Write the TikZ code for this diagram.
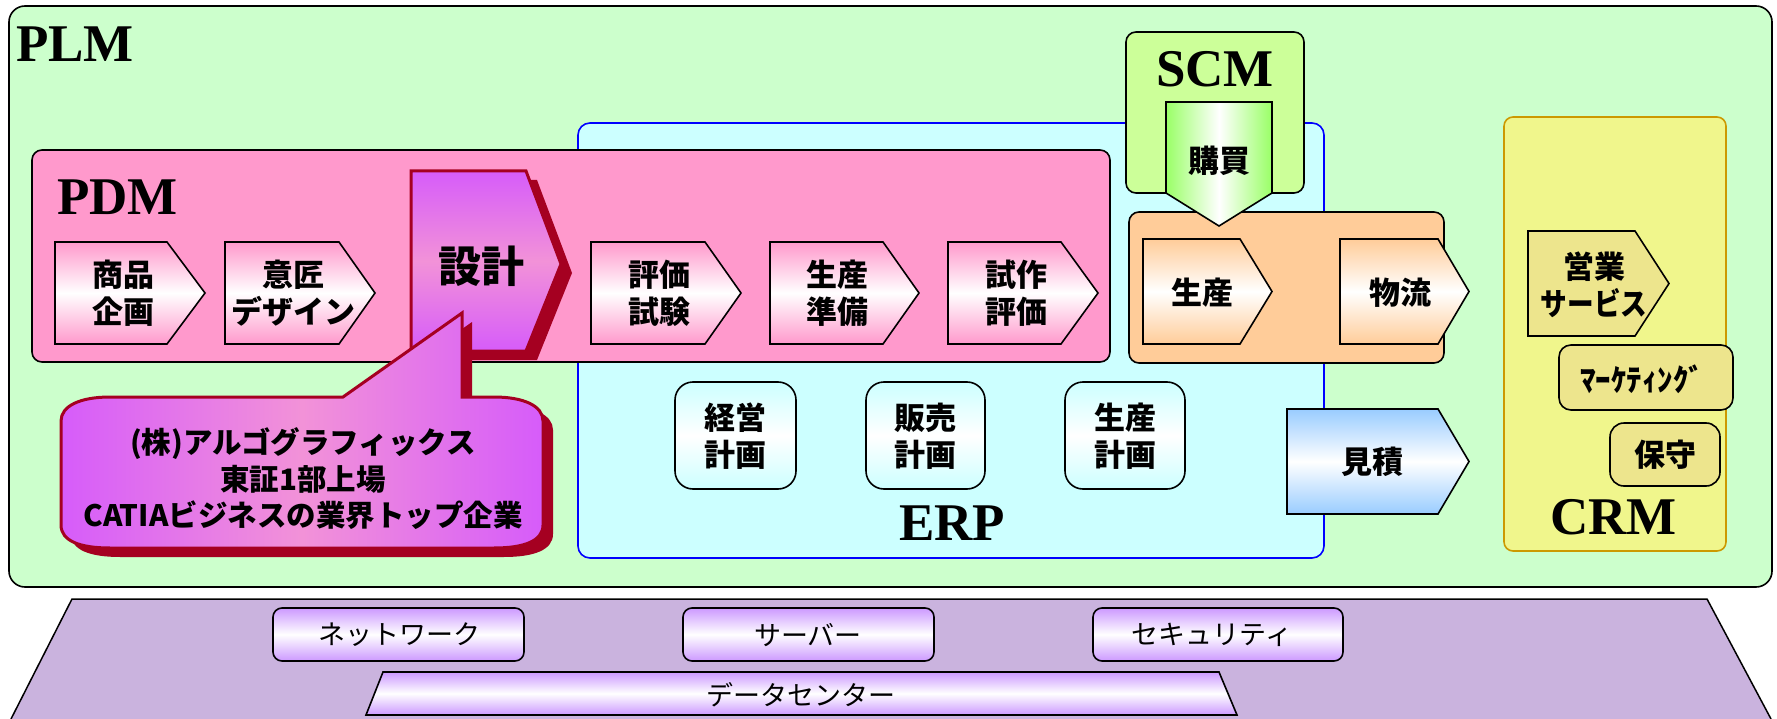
\documentclass[tikz,border=0pt]{standalone}
\usepackage{fontspec}
\setmainfont{Liberation Serif}
\newfontfamily\jp{Noto Sans CJK JP}
\definecolor{plmc}{HTML}{CCFFCC}
\definecolor{pdmc}{HTML}{FF99CC}
\definecolor{erpc}{HTML}{CCFFFF}
\definecolor{scmc}{HTML}{CCFF99}
\definecolor{orc}{HTML}{FFCC99}
\definecolor{crmc}{HTML}{F0F68C}
\definecolor{crmb}{HTML}{CC9900}
\definecolor{khaki}{HTML}{EDE58D}
\definecolor{grn}{HTML}{99FF66}
\definecolor{bluec}{HTML}{99CCFF}
\definecolor{dkred}{HTML}{A50021}
\definecolor{vio}{HTML}{D65CFA}
\definecolor{pnk}{HTML}{F292D8}
\definecolor{infra}{HTML}{CAB3DE}
\definecolor{infb}{HTML}{CC99FF}
\newcommand{\chevdraw}[6]{\path[#1] (#2,#3) -- (#4,#3) -- (#5,{(#3+#6)/2}) -- (#4,#6) -- (#2,#6) -- cycle;}
\newcommand{\callpath}[1]{\path[#1] (343,397) -- (110,397) .. controls (80,397) and (61,406) .. (61,421) -- (61,525) .. controls (61,541) and (80,548) .. (110,548) -- (494,548) .. controls (524,548) and (543,541) .. (543,525) -- (543,421) .. controls (543,406) and (524,397) .. (494,397) -- (462,397) -- (462,313) -- cycle;}
\newcommand{\sekkeipath}[1]{\path[#1] (411,171) -- (526,171) -- (561,264) -- (526,351) -- (411,351) -- cycle;}
\begin{document}
\begin{tikzpicture}[x=1pt,y=-1pt,
  bord/.style={draw=black, line width=1.6pt},
  pdmchev/.style={bord, top color=pdmc, bottom color=pdmc, middle color=white},
  orchev/.style={bord, top color=orc, bottom color=orc, middle color=white},
  bluechev/.style={bord, top color=bluec, bottom color=bluec, middle color=white},
  erpbox/.style={bord, rounded corners=18pt, top color=erpc, bottom color=erpc, middle color=white},
  infbox/.style={bord, rounded corners=9pt, top color=infb, bottom color=infb, middle color=white},
  jt/.style={font=\jp\bfseries\fontsize{31}{37}\selectfont, align=center, inner sep=0pt},
  lbl/.style={font=\bfseries\fontsize{53}{60}\selectfont, anchor=base west, inner sep=0pt},
  it/.style={font=\jp\fontsize{27}{30}\selectfont, inner sep=0pt},
]
\useasboundingbox (0,0) rectangle (1777,719);
% infrastructure base
\fill[infra] (11,719) -- (72,599) -- (1707,599) -- (1771,719) -- cycle;
\draw[line width=1.5pt] (11,719) -- (72,599) -- (1707,599) -- (1771,719);
\path[infbox] (273,608) rectangle (524,661);
\path[infbox] (683,608) rectangle (934,661);
\path[infbox] (1093,608) rectangle (1343,661);
\path[bord, top color=infb, bottom color=infb, middle color=white] (383,672) -- (1219,672) -- (1237,715) -- (366,715) -- cycle;
\node[it] (net) at (399,635) {ネットワーク};
\node[it] (srv) at (808,635) {サーバー};
\node[it] (sec) at (1212,635) {セキュリティ};
\node[it] (dc) at (801,695) {データセンター};
% PLM
\draw[fill=plmc, line width=1.6pt, rounded corners=16pt] (9,6) rectangle (1772,587);
\node[lbl] (plm) at (16,62) {PLM};
% ERP
\draw[fill=erpc, draw=blue, line width=1.6pt, rounded corners=12pt] (578,123) rectangle (1324,558);
\node[lbl] (erp) at (899,540) {ERP};
\path[erpbox] (675,382) rectangle (796,489);
\path[erpbox] (866,382) rectangle (985,489);
\path[erpbox] (1065,382) rectangle (1185,489);
\node[jt] (keiei) at (735.5,436) {経営\\計画};
\node[jt] (hanbai) at (925.5,436) {販売\\計画};
\node[jt] (seisankk) at (1125,436) {生産\\計画};
% PDM
\draw[bord, fill=pdmc, rounded corners=10pt] (32,150) rectangle (1110,362);
\node[lbl] (pdm) at (57,215) {PDM};
\chevdraw{pdmchev}{55}{242}{167}{205}{344}
\chevdraw{pdmchev}{225}{242}{339}{375}{344}
\chevdraw{pdmchev}{591}{242}{705}{741}{344}
\chevdraw{pdmchev}{770}{242}{883}{919}{344}
\chevdraw{pdmchev}{948}{242}{1061}{1098}{344}
\node[jt] (shohin) at (123,293) {商品\\企画};
\node[jt] (isho) at (293,293) {意匠\\デザイン};
\node[jt] (hyoka) at (659,293) {評価\\試験};
\node[jt] (junbi) at (837.5,293) {生産\\準備};
\node[jt] (shisaku) at (1016,293) {試作\\評価};
% SCM
\draw[bord, fill=scmc, rounded corners=10pt] (1126,32) rectangle (1304,193);
\node[lbl] (scm) at (1156,87) {SCM};
% orange block
\draw[bord, fill=orc, rounded corners=10pt] (1129,212) rectangle (1444,363);
\path[bord, left color=grn, right color=grn, middle color=white] (1166,102) -- (1272,102) -- (1272,193) -- (1219,226) -- (1166,193) -- cycle;
\node[jt] (kobai) at (1219,161) {購買};
\chevdraw{orchev}{1143}{239}{1240}{1272}{344}
\chevdraw{orchev}{1340}{239}{1438}{1469}{344}
\node[jt] (seisan) at (1202,293) {生産};
\node[jt] (butsuryu) at (1400,293) {物流};
% estimate
\chevdraw{bluechev}{1287}{409}{1438}{1469}{514}
\node[jt] (mitsumori) at (1372,462) {見積};
% CRM
\draw[fill=crmc, draw=crmb, line width=1.6pt, rounded corners=9pt] (1504,117) rectangle (1726,551);
\node[lbl] (crm) at (1550,534) {CRM};
\chevdraw{bord, fill=khaki}{1528}{231}{1635}{1669}{336}
\node[jt] (eigyo) at (1594,285) {営業\\\scalebox{0.86}[1]{サービス}};
\draw[bord, fill=khaki, rounded corners=12pt] (1559,345) rectangle (1733,410);
\node[jt] (mkt) at (1642,379) {ﾏｰｹﾃｨﾝｸﾞ};
\draw[bord, fill=khaki, rounded corners=14pt] (1610,423) rectangle (1720,486);
\node[jt] (hoshu) at (1665,455) {保守};
% design
\sekkeipath{fill=dkred, shift={(11,9)}}
\sekkeipath{draw=dkred, line width=3pt, top color=vio, bottom color=vio, middle color=pnk}
\node[jt, font=\jp\bfseries\fontsize{43}{48}\selectfont] (sekkei) at (481,266) {設計};
% callout
\callpath{fill=dkred, shift={(10,9)}}
\callpath{draw=dkred, line width=3pt, left color=vio, right color=vio, middle color=pnk}
\node[jt, font=\jp\bfseries\fontsize{29.5}{36.5}\selectfont] (callout) at (303,479) {(株)アルゴグラフィックス\\東証1部上場\\CATIAビジネスの業界トップ企業};
\end{tikzpicture}
\end{document}
